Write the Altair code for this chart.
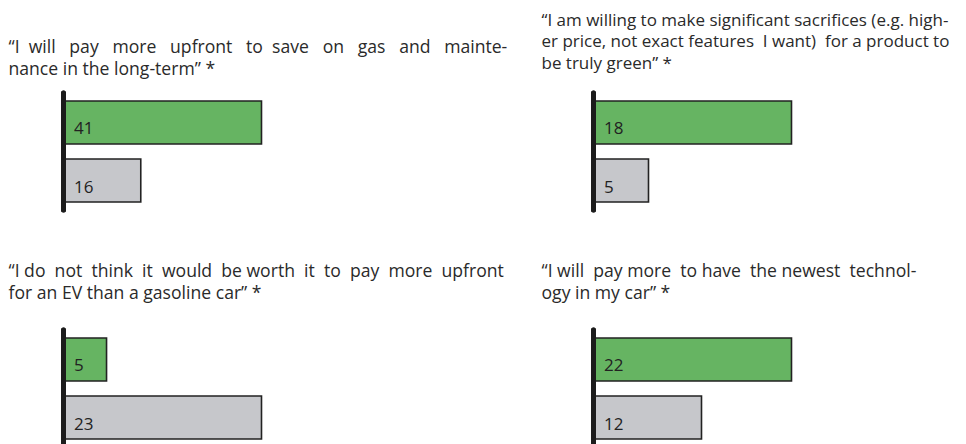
import altair as alt
import pandas as pd

titles = [
    ["\u201cI will pay more upfront to save on gas and mainte-",
     "nance in the long-term\u201d *"],
    ["\u201cI am willing to make significant sacrifices (e.g. high-",
     "er price, not exact features\u00a0 I want)\u00a0 for a product to",
     "be truly green\u201d *"],
    ["\u201cI do not think it would be worth it to pay more upfront",
     "for an EV than a gasoline car\u201d *"],
    ["\u201cI will pay more to have the newest technol-",
     "ogy in my car\u201d *"],
]
groups = ["green", "gray"]
green_values = [41, 18, 5, 22]
gray_values = [16, 5, 23, 12]

colors = {"green": "#66b462", "gray": "#c6c7cb"}
W, H = 198, 121
FONT = "Open Sans"


def justify(line, n_extra):
    """Widen word gaps (the source text is justified)."""
    words = line.split(" ")
    gaps = len(words) - 1
    out = words[0]
    for j, w in enumerate(words[1:]):
        k = n_extra * (j + 1) // gaps - n_extra * j // gaps
        out += " " + "\u00a0" * k + w
    return out


def panel(i, lines, dx, offset, fs):
    df = pd.DataFrame({
        "group": groups,
        "value": [green_values[i], gray_values[i]],
    })
    base = alt.Chart(df)
    y = alt.Y("group:N", sort=groups, axis=None,
              scale=alt.Scale(paddingInner=0.2586, paddingOuter=0.1724))
    x = alt.X("value:Q", axis=None,
              scale=alt.Scale(zero=True, nice=False))
    bars = base.mark_bar(stroke="#222222", strokeWidth=1.6).encode(
        x=x, y=y,
        color=alt.Color("group:N", legend=None,
                        scale=alt.Scale(domain=groups,
                                        range=[colors[g] for g in groups])),
    )
    labels = base.mark_text(align="left", baseline="alphabetic", dx=10.5, dy=12,
                            font=FONT, fontSize=17, color="#222222").encode(
        x=alt.value(0), y=y, text="value:Q")
    rule = base.mark_rule(strokeWidth=5, color="#1c1c1c", strokeCap="round").encode(
        x=alt.value(0), y=alt.value(2), y2=alt.value(H - 2))
    return alt.layer(bars, labels, rule).properties(
        width=W, height=H,
        title=alt.Title(text=lines, anchor="start", frame="group", dx=dx,
                        offset=offset, font=FONT, fontSize=fs,
                        fontWeight="normal", color="#2a2a2a", lineHeight=21.5),
    )


t1 = [justify(titles[0][0], 18), titles[0][1]]
t2 = titles[1]
t3 = [justify(titles[2][0], 10), titles[2][1]]
t4 = [justify(titles[3][0], 4), titles[3][1]]

chart = alt.concat(
    panel(0, t1, -55, 12, 17.6), panel(1, t2, -52, 18, 17),
    panel(2, t3, -55, 25, 17.6), panel(3, t4, -52, 25, 17.6),
    columns=2,
    spacing=alt.RowColnumber(row=116, column=332),
    bounds="flush",
).properties(
    padding={"left": 0.5, "top": 3, "right": 0, "bottom": 0},
).configure_view(stroke=None)

chart.save("out.html", embed_options={"renderer": "svg", "actions": False})
